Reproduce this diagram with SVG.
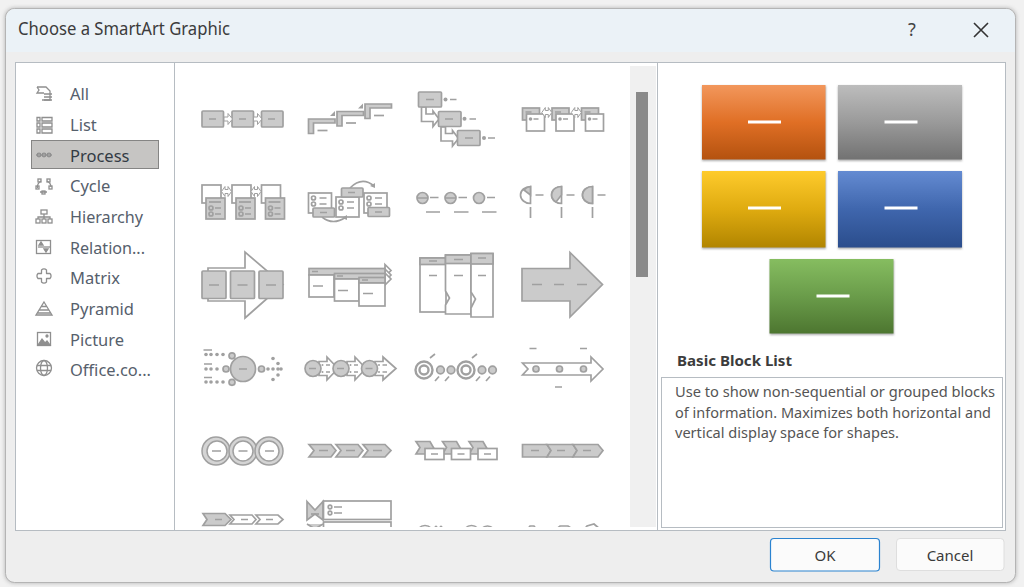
<svg xmlns="http://www.w3.org/2000/svg" xmlns:xlink="http://www.w3.org/1999/xlink" width="1024" height="587" viewBox="0 0 1024 587">
<style>
text{font-family:"Noto Sans","Open Sans","Liberation Sans",sans-serif}
.n{font-size:16.5px;fill:#56606c}
.g{fill:#cbcbcb;stroke:#a0a0a0;stroke-width:1.7}
.w{fill:#fff;stroke:#a0a0a0;stroke-width:1.7}
.l{fill:none;stroke:#a0a0a0;stroke-width:1.7}
.d{fill:#a0a0a0;stroke:none}
.a{fill:#fff;stroke:#a0a0a0;stroke-width:1}
.i{fill:none;stroke:#8f8f8f;stroke-width:1.3}
.bar{fill:#fff;stroke:none}
</style>
<defs>
<linearGradient id="go" x1="0" y1="0" x2="0" y2="1"><stop offset="0" stop-color="#f2975c"/><stop offset=".5" stop-color="#e06f25"/><stop offset="1" stop-color="#b4520f"/></linearGradient>
<linearGradient id="gg" x1="0" y1="0" x2="0" y2="1"><stop offset="0" stop-color="#bdbdbd"/><stop offset=".5" stop-color="#9a9a9a"/><stop offset="1" stop-color="#727272"/></linearGradient>
<linearGradient id="gy" x1="0" y1="0" x2="0" y2="1"><stop offset="0" stop-color="#fecb2c"/><stop offset=".5" stop-color="#dfab10"/><stop offset="1" stop-color="#b18500"/></linearGradient>
<linearGradient id="gb" x1="0" y1="0" x2="0" y2="1"><stop offset="0" stop-color="#648bd2"/><stop offset=".5" stop-color="#3f66ad"/><stop offset="1" stop-color="#2b4d8c"/></linearGradient>
<linearGradient id="gn" x1="0" y1="0" x2="0" y2="1"><stop offset="0" stop-color="#86bd60"/><stop offset=".5" stop-color="#6a9c4a"/><stop offset="1" stop-color="#4d7630"/></linearGradient>
<filter id="sh" x="-10%" y="-10%" width="120%" height="120%"><feGaussianBlur stdDeviation="1.2"/></filter>
<filter id="ws" x="-5%" y="-5%" width="110%" height="110%"><feGaussianBlur stdDeviation="2"/></filter>
<filter id="soft" x="-2%" y="-2%" width="104%" height="104%"><feGaussianBlur stdDeviation="0.4"/></filter>
<clipPath id="gal"><rect x="176" y="64" width="454" height="463"/></clipPath>
<path id="ar" d="M-3.500-2H0.500V-5.500L5 0 0.500 5.500V2H-3.500Z" class="a"/>
<path id="smallar" d="M-5 0L-1.500-5V-2H1.500V-5L5 0 1.500 5V2H-1.500V5Z" class="a"/>
<g id="lshape"><path d="M0 15.500V1H26.500V5H5V15.500Z" class="g"/><path d="M9 12.500H19" class="l"/></g>
<path id="tri" d="M0 5L5 0V5Z" class="d"/>
<g id="ws1"><rect x="0" y="0" width="19" height="18" class="w"/><rect x="4" y="13" width="19" height="21" class="g"/><path d="M7 17H19" class="l"/><circle cx="9" cy="23" r="2" class="l"/><circle cx="9" cy="29" r="2" class="l"/><path d="M13 23H19M13 29H19" class="l"/></g>
<g id="tab"><rect x="0" y="0" width="17" height="12" class="g"/><rect x="4" y="6" width="18" height="17" class="w"/><circle cx="8" cy="11" r="1.800" class="d"/><path d="M11 11H16M3 4H9" class="l"/></g>
<g id="card"><rect x="0" y="0" width="23" height="20" class="w"/><circle cx="5" cy="5" r="2" class="l"/><circle cx="5" cy="11" r="2" class="l"/><path d="M11 5H18M11 11H18" class="l"/></g>
<path id="tag" d="M0 0H14L18 7 14 12.500H0L4 6Z" class="g"/>
<g id="pie"><path d="M0-8.500A10 8.500 0 0 0 0 8.500Z" class="w"/><path d="M5 0H13M0 12V23" class="l"/></g>
</defs>

<g id="window">
<rect width="1024" height="587" fill="#f1f1f1"/>
<rect x="5" y="8" width="1011" height="575" rx="9" fill="#7e7e7e" opacity=".55" filter="url(#ws)"/>
<rect x="5.500" y="8.500" width="1010" height="574" rx="9" fill="#eeeeee" stroke="#b4b4b4"/>
<path d="M6 52V17.500A9 9 0 0 1 15 9H1006A9 9 0 0 1 1015 17.500V52Z" fill="#ebf2f7"/>
<text x="18" y="35" font-size="17.500" fill="#3c3c3c" textLength="212" lengthAdjust="spacingAndGlyphs">Choose a SmartArt Graphic</text>
<text x="912" y="36" font-size="18" fill="#444" text-anchor="middle">?</text>
<path d="M974 23L988 37M988 23L974 37" stroke="#333" stroke-width="1.600" fill="none"/>
</g>

<g id="panel">
<rect x="15.500" y="62.500" width="990" height="468" fill="#fff" stroke="#b6bcc2"/>
<path d="M174.500 63V530M657.500 63V530" stroke="#b6bcc2" fill="none"/>
<rect x="630" y="66" width="26" height="461" fill="#f0f0f0"/>
<rect x="636" y="92" width="12" height="185" fill="#8a8a8a"/>
</g>

<g id="categories">
<rect x="31" y="140" width="128" height="29" fill="#c6c5c3"/>
<rect x="31.500" y="140.500" width="127" height="28" fill="none" stroke="#444" stroke-dasharray="1 1"/>
<g class="i">
<path d="M37 87H46L50 91V100H42M37 87L39 90 37 93H44"/><path d="M44 94H52M44 97H52M44 100H52"/>
<path d="M37 117.500H40V121H37ZM37 123H40V127H37ZM37 129H40V133H37ZM42 117.500H52V121H42ZM42 123H52V127H42ZM42 129H52V133H42Z"/>
<path d="M36 155H52"/><circle cx="39" cy="155" r="1.800"/><circle cx="44" cy="155" r="1.800"/><circle cx="49" cy="155" r="1.800"/>
<path d="M41 181A7 7 0 0 0 37.500 188M47 181A7 7 0 0 1 51 187M40 192H47"/><rect x="38" y="179" width="3" height="3"/><rect x="47" y="179" width="3" height="3"/><rect x="42" y="191" width="3" height="3"/><rect x="36" y="186" width="3" height="3"/><rect x="49" y="186" width="3" height="3"/>
<rect x="41" y="210" width="6" height="4"/><path d="M44 214V217M38 219V217H50V219M44 217V219"/><rect x="36" y="219" width="4" height="4"/><rect x="42" y="219" width="4" height="4"/><rect x="48" y="219" width="4" height="4"/>
<rect x="36.500" y="240.500" width="14" height="13"/><path d="M38 247H50"/><path d="M39 245L41 242 43 245ZM44 249L46 252 48 249Z" fill="#8f8f8f"/>
<path d="M41.500 270A3.500 3.500 0 0 1 46.500 270V273.500H50A3.500 3.500 0 0 1 50 278.500H46.500V282A3.500 3.500 0 0 1 41.500 282V278.500H38A3.500 3.500 0 0 1 38 273.500H41.500Z" stroke-linejoin="round"/>
<path d="M44 302L52 315H36ZM41 306.500H47M39 310H49M37.500 313H50.500"/>
<rect x="37.500" y="332.500" width="13" height="13"/><path d="M38 345L42 339 45 343 47 341 50 345Z" fill="#8f8f8f"/><circle cx="47" cy="336" r="1" fill="#8f8f8f"/>
<circle cx="44" cy="368" r="7.500"/><ellipse cx="44" cy="368" rx="3.500" ry="7.500"/><path d="M37 365.500H51M37 370.500H51"/>
</g>
<text x="70" y="100" class="n">All</text>
<text x="70" y="130.500" class="n">List</text>
<text x="70" y="161.500" class="n" style="fill:#333b44">Process</text>
<text x="70" y="192" class="n">Cycle</text>
<text x="70" y="223" class="n" textLength="73" lengthAdjust="spacingAndGlyphs">Hierarchy</text>
<text x="70" y="253.500" class="n" textLength="75" lengthAdjust="spacingAndGlyphs">Relation...</text>
<text x="70" y="284" class="n">Matrix</text>
<text x="70" y="315" class="n" textLength="64" lengthAdjust="spacingAndGlyphs">Pyramid</text>
<text x="70" y="345.500" class="n">Picture</text>
<text x="70" y="376" class="n" textLength="81" lengthAdjust="spacingAndGlyphs">Office.co...</text>
</g>

<g id="gallery" clip-path="url(#gal)"><g filter="url(#soft)">
<g id="t11"><rect x="202" y="111" width="21.500" height="16" rx="1" class="g"/><rect x="232" y="111" width="21.500" height="16" rx="1" class="g"/><rect x="261.500" y="111" width="21.500" height="16" rx="1" class="g"/><path d="M209 119H216M239 119H246M268 119H275" class="l"/><use xlink:href="#ar" x="227.500" y="119"/><use xlink:href="#ar" x="257" y="119"/></g>
<g id="t12"><use xlink:href="#lshape" x="308.500" y="118"/><use xlink:href="#lshape" x="337" y="110.500"/><use xlink:href="#lshape" x="365" y="103"/><use xlink:href="#tri" x="330" y="111"/><use xlink:href="#tri" x="358" y="103.500"/></g>
<g id="t13"><path d="M421.500 107V121.500H433V126.500L439 119 433 111V114H426V107Z" class="w"/><path d="M441 127V141H452.500V146L458.500 138.500 452.500 130.500V133.500H445.500V127Z" class="w"/>
<rect x="418.500" y="92" width="23" height="15" rx="1" class="g"/><rect x="438.500" y="111.500" width="22.500" height="15" rx="1" class="g"/><rect x="457.500" y="130.500" width="22.500" height="15" rx="1" class="g"/><path d="M426 99.500H434M445 119H453M465 138H473M450 99.500H456.500M469.500 119H476M488 138H495" class="l"/><circle cx="445.500" cy="99.500" r="2" class="d"/><circle cx="464.500" cy="118.800" r="2" class="d"/><circle cx="484" cy="138" r="2" class="d"/></g>
<g id="t14"><use xlink:href="#tab" x="522.500" y="108"/><use xlink:href="#tab" x="552" y="108"/><use xlink:href="#tab" x="581.500" y="108"/><use xlink:href="#smallar" x="546.800" y="112.500"/><use xlink:href="#smallar" x="576.300" y="112.500"/></g>

<g id="t21"><use xlink:href="#ws1" x="202" y="185"/><use xlink:href="#ws1" x="232" y="185"/><use xlink:href="#ws1" x="261.500" y="185"/><use xlink:href="#smallar" x="226.500" y="191.500"/><use xlink:href="#smallar" x="256" y="191.500"/></g>
<g id="t22"><use xlink:href="#card" x="308.500" y="193"/><use xlink:href="#card" x="336" y="197"/><use xlink:href="#card" x="364" y="193"/><path d="M322 217Q333 226 346 217M350 188Q362 176 374 186" class="l"/><path d="M347 215V220L342 218Z M375 188V183L370 186Z" class="d"/><rect x="313" y="208" width="21.500" height="9" rx="1" class="g"/><rect x="341.500" y="188" width="21.500" height="9" rx="1" class="g"/><rect x="368" y="207.500" width="21.500" height="9" rx="1" class="g"/><path d="M320 212.500H327M348 192.500H355M375 212H382" class="l"/></g>
<g id="t23"><g class="g"><circle cx="422.500" cy="198" r="5.500"/><circle cx="450.500" cy="198" r="5.500"/><circle cx="479" cy="198" r="5.500"/></g><path d="M417 198H428M445 198H456M430 197.500H438.500M458.500 197.500H467M487 197.500H495M426 212H440M454 212H468.500M482 212H496.500" class="l"/></g>
<g id="t24"><use xlink:href="#pie" x="530.500" y="195"/><use xlink:href="#pie" x="561.500" y="195"/><use xlink:href="#pie" x="592.500" y="195"/><path d="M530.500 186.500A10 8.500 0 0 0 524 190L530.500 195Z" class="g"/><path d="M561.500 186.500A10 8.500 0 0 0 556 202L561.500 195Z" class="g"/><path d="M592.500 186.500A10 8.500 0 0 0 592.500 203.500Z" class="g"/></g>

<g id="t31"><path d="M208 268H245V252L283 284.500 245 318V301H208Z" class="w"/><rect x="202" y="271" width="24" height="27.500" rx="1" class="g"/><rect x="230.500" y="271" width="24" height="27.500" rx="1" class="g"/><rect x="259" y="271" width="24" height="27.500" rx="1" class="g"/><path d="M209 285H219M237.500 285H247.500M266 285H276" class="l"/></g>
<g id="t32"><path d="M385 264.500L391 270.500 385 276.500Z" class="w"/><path d="M385 269L391 275 385 281Z" class="w"/><path d="M385 273L391 279 385 285Z" class="w"/><rect x="309" y="268.500" width="76" height="6.500" class="g"/><rect x="309" y="275" width="25" height="22" class="w"/><rect x="334.500" y="273.500" width="50.500" height="5.500" class="g"/><rect x="334.500" y="279" width="24.500" height="22" class="w"/><rect x="359" y="277.500" width="26" height="5.500" class="g"/><rect x="359" y="283" width="26" height="23" class="w"/><path d="M312 271.500H318M337 276H343M362 280H368M313 286H323M338 290.500H348M363 293.500H373" class="l"/></g>
<g id="t33"><rect x="420" y="258" width="26" height="54" class="w"/><rect x="420" y="258" width="26" height="6.500" class="g"/><path d="M445.500 255H471V314H445.500V305L449.500 298 445.500 291Z" class="w"/><rect x="445.500" y="255" width="25.500" height="8.500" class="g"/><path d="M471 253.500H493V317H471V308L475.500 299 471 292Z" class="w"/><rect x="471" y="253.500" width="22" height="10.500" class="g"/><path d="M429 261H437M454 259.500H463M478 258H486M429 275.500H437M454 275.500H463M478 275.500H486" class="l"/></g>
<g id="t34"><path d="M522 268.500H570V252.500L602.500 284.500 570 317V301H522Z" class="g"/><path d="M532 284.500H542M554 284.500H564M577 284.500H587" class="l"/></g>

<g id="t41"><circle cx="243" cy="369" r="12.500" class="g"/><g class="g"><circle cx="232" cy="355.800" r="3"/><circle cx="226" cy="369" r="3"/><circle cx="232" cy="382.300" r="3"/><circle cx="261.500" cy="369" r="3"/></g><path d="M239 369H247M203.500 350H212M204 364H212M204 377.500H212" class="l"/><g class="d"><circle cx="206" cy="354.500" r="1.800"/><circle cx="211" cy="354.500" r="1.800"/><circle cx="217" cy="354.500" r="1.800"/><circle cx="223" cy="354.500" r="1.800"/><circle cx="206" cy="369" r="1.800"/><circle cx="211" cy="369" r="1.800"/><circle cx="217" cy="369" r="1.800"/><circle cx="206" cy="382" r="1.800"/><circle cx="211" cy="382" r="1.800"/><circle cx="217" cy="382" r="1.800"/><circle cx="223" cy="382" r="1.800"/><circle cx="273" cy="358.500" r="1.800"/><circle cx="278" cy="363.500" r="1.800"/><circle cx="268" cy="369" r="1.800"/><circle cx="273" cy="369" r="1.800"/><circle cx="278" cy="369" r="1.800"/><circle cx="281" cy="369" r="1.800"/><circle cx="278" cy="375" r="1.800"/><circle cx="273" cy="379.500" r="1.800"/></g></g>
<g id="t42"><path d="M319 361.500H327V357L338 368.500 327 380V375.500H319Z" class="w"/><path d="M347 361.500H355V357L366 368.500 355 380V375.500H347Z" class="w"/><path d="M375 361.500H383V357L396 368.500 383 380V375.500H375Z" class="w"/><g class="g"><circle cx="313" cy="368.500" r="8"/><circle cx="341" cy="368.500" r="8"/><circle cx="369.500" cy="368.500" r="8"/></g><path d="M309 368.500H316M337 368.500H344M365.500 368.500H372.500" class="l"/><g class="d"><circle cx="322.500" cy="365" r="1"/><circle cx="322.500" cy="372" r="1"/><circle cx="350.500" cy="365" r="1"/><circle cx="350.500" cy="372" r="1"/><circle cx="379" cy="365" r="1"/><circle cx="379" cy="372" r="1"/></g><path d="M326 365H330M326 372H330M354 365H358M354 372H358M382.500 365H387M382.500 372H387" class="l"/></g>
<g id="t43"><g class="l" style="stroke-width:2.400"><circle cx="424" cy="370" r="8.500"/><circle cx="424" cy="370" r="4.500"/><circle cx="466" cy="370" r="8.500"/><circle cx="466" cy="370" r="4.500"/></g><g class="g"><circle cx="440.500" cy="370" r="3.800"/><circle cx="451" cy="370" r="3.800"/><circle cx="482" cy="370" r="3.800"/><circle cx="492.500" cy="370" r="3.800"/></g><path d="M430 358L435 354M472 358L477 354M435 381L439 376.500M445 381L449 376.500M476 381L480 376.500M486 381L490 376.500" class="l"/></g>
<g id="t44"><path d="M522.500 363H591V357L603 369 591 381V375H522.500L528 369Z" class="w"/><g class="g"><circle cx="536" cy="369" r="3"/><circle cx="559.500" cy="369" r="3"/><circle cx="583.500" cy="369" r="3"/></g><path d="M529.500 348.500H536.500M580 348.500H587M555 387H562" class="l"/></g>

<g id="t51"><g stroke="#a0a0a0" stroke-width="1.500"><circle cx="216" cy="451" r="14" fill="#d4d4d4"/><circle cx="243" cy="451" r="14" fill="#d4d4d4"/><circle cx="269" cy="451" r="14" fill="#d4d4d4"/><circle cx="217" cy="451" r="10" fill="#fff"/><circle cx="243" cy="451" r="10" fill="#fff"/><circle cx="269" cy="451" r="10" fill="#fff"/></g><path d="M212 451H221M238.500 451H247.500M265 451H274" class="l"/></g>
<g id="t52"><path d="M309 444.500H331L336 450.500 331 457H309L314 450.500Z" class="g"/><path d="M336 444.500H358L363 450.500 358 457H336L341 450.500Z" class="g"/><path d="M363 444.500H385L391 450.500 385 457H363L368 450.500Z" class="g"/><path d="M319 450.500H328M346 450.500H355M373 450.500H382" class="l"/></g>
<g id="t53"><use xlink:href="#tag" x="416" y="441.500"/><use xlink:href="#tag" x="442.500" y="441.500"/><use xlink:href="#tag" x="469" y="441.500"/><rect x="425" y="448.500" width="19" height="11" class="w"/><rect x="451.500" y="448.500" width="19" height="11" class="w"/><rect x="478" y="448.500" width="19" height="11" class="w"/><path d="M431 454H438M457.500 454H464.500M484 454H491" class="l"/></g>
<g id="t54"><path d="M522.500 444.500H547L551 450.500 547 457H522.500Z" class="g"/><path d="M547 444.500H573L577 450.500 573 457H547L551 450.500Z" class="g"/><path d="M573 444.500H598L603 450.500 598 457H573L577 450.500Z" class="g"/><path d="M531 450.500H539M557 450.500H565M583 450.500H591" class="l"/></g>

<g id="t61"><path d="M203 513.500H225L231 519.500 225 525.500H203L207 519.500Z" class="g"/><path d="M230 515H252L256 519.500 252 524H230L234 519.500Z" class="w"/><path d="M256 515H278L283 519.500 278 524H256L260 519.500Z" class="w"/><path d="M215 519.500H222M241 519.500H248M266 519.500H273" class="l"/></g>
<g id="t62"><path d="M307 501.500L315 510 323 501.500V520L315 514 307 520Z" class="g"/><path d="M307 524L315 529 323 524" class="g"/><rect x="323.500" y="501" width="67.500" height="18.500" class="w"/><rect x="323.500" y="522" width="67.500" height="18" class="w"/><circle cx="330" cy="507" r="1.800" class="l"/><circle cx="330" cy="513" r="1.800" class="l"/><path d="M334 507H342M334 513H342" class="l"/><path d="M311 514H319" class="l"/></g>
<g id="t63"><circle cx="425" cy="534" r="8.500" class="l"/><circle cx="471.500" cy="534" r="8.500" class="l"/><circle cx="487.500" cy="534" r="8" class="l"/><circle cx="436" cy="527" r="1.500" class="d"/><circle cx="441" cy="527" r="1.500" class="d"/></g>
<g id="t64"><path d="M527 530L530 526 534 526 537 530M542 528L547 532M553 532L560 526 568 526 574 530M582 532L587 526 594 524 601 530" class="l"/></g>
</g></g>

<g id="preview">
<rect x="702" y="86" width="124" height="75" fill="#777" opacity=".6" filter="url(#sh)"/><rect x="702" y="85" width="123.500" height="74.500" fill="url(#go)"/><rect x="748" y="120.500" width="33" height="3" class="bar"/>
<rect x="838" y="86" width="124" height="75" fill="#777" opacity=".6" filter="url(#sh)"/><rect x="838" y="85" width="124" height="74.500" fill="url(#gg)"/><rect x="884.500" y="120.500" width="33" height="3" class="bar"/>
<rect x="702" y="172" width="124" height="77" fill="#777" opacity=".6" filter="url(#sh)"/><rect x="702" y="171" width="123.500" height="76.500" fill="url(#gy)"/><rect x="748" y="206.500" width="33" height="3" class="bar"/>
<rect x="838" y="172" width="124" height="77" fill="#777" opacity=".6" filter="url(#sh)"/><rect x="838" y="171" width="124" height="76.500" fill="url(#gb)"/><rect x="884.500" y="206.500" width="33" height="3" class="bar"/>
<rect x="770" y="260" width="124" height="75" fill="#777" opacity=".6" filter="url(#sh)"/><rect x="769.500" y="259" width="124" height="74.500" fill="url(#gn)"/><rect x="816.500" y="294.500" width="33" height="3" class="bar"/>
<text x="677" y="366" font-size="14.500" font-weight="700" fill="#3c3c3c" textLength="115" lengthAdjust="spacingAndGlyphs">Basic Block List</text>
<rect x="661.500" y="377.500" width="341" height="150" fill="#fff" stroke="#b6bcc2"/>
<g font-size="14" fill="#555">
<text x="675" y="397" textLength="320" lengthAdjust="spacingAndGlyphs">Use to show non-sequential or grouped blocks</text>
<text x="675" y="417.500" textLength="316" lengthAdjust="spacingAndGlyphs">of information. Maximizes both horizontal and</text>
<text x="675" y="438" textLength="224" lengthAdjust="spacingAndGlyphs">vertical display space for shapes.</text>
</g>
</g>

<g id="buttons">
<rect x="770.500" y="538.500" width="109" height="32.500" rx="3.500" fill="#fbfbfb" stroke="#2b83d0" stroke-width="1.200"/>
<text x="825" y="560.500" font-size="15" fill="#3a3a3a" text-anchor="middle">OK</text>
<rect x="896.500" y="538.500" width="107.500" height="32" rx="3.500" fill="#fbfbfb" stroke="#dedede"/>
<text x="950" y="560.500" font-size="15" fill="#3a3a3a" text-anchor="middle">Cancel</text>
</g>
</svg>
